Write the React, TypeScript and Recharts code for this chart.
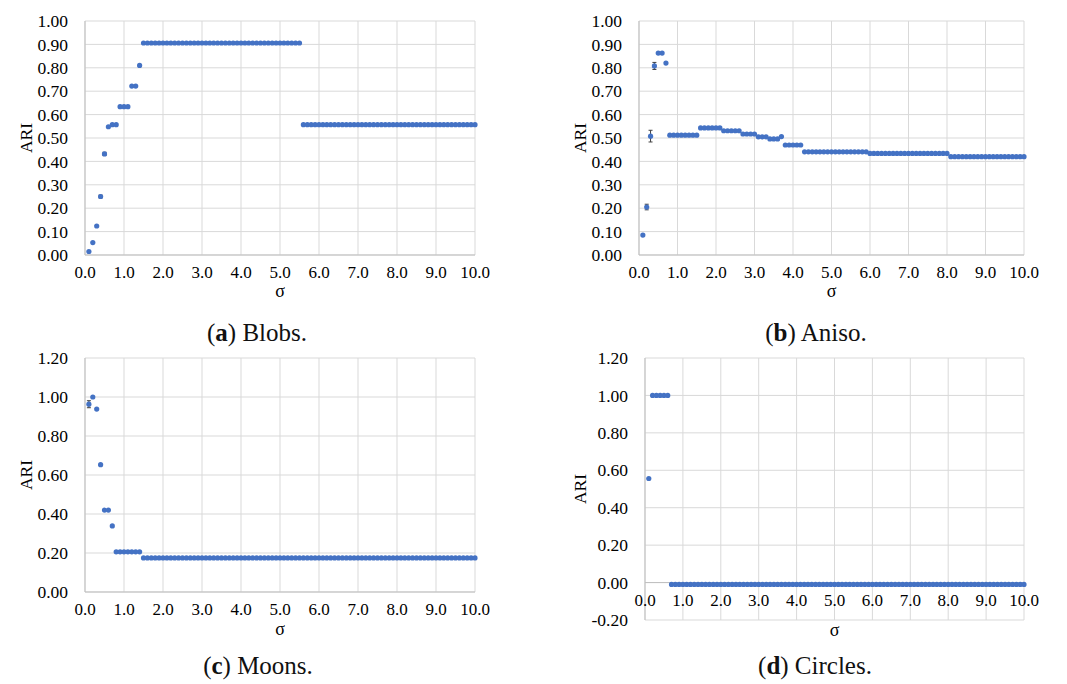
import React from 'react';
import { ScatterChart, Scatter, XAxis, YAxis, CartesianGrid, ErrorBar, ReferenceLine } from 'recharts';

const FONT = 'Liberation Serif, DejaVu Serif, serif';
const DOT = '#4472C4';
const GRID = '#D9D9D9';
const AXIS = '#BFBFBF';
const INK = '#000';

// sigma values shared by all four panels
const sigma = [
  0.1, 0.2, 0.3, 0.4, 0.5, 0.6, 0.7, 0.8, 0.9, 1.0,
  1.1, 1.2, 1.3, 1.4, 1.5, 1.6, 1.7, 1.8, 1.9, 2.0,
  2.1, 2.2, 2.3, 2.4, 2.5, 2.6, 2.7, 2.8, 2.9, 3.0,
  3.1, 3.2, 3.3, 3.4, 3.5, 3.6, 3.7, 3.8, 3.9, 4.0,
  4.1, 4.2, 4.3, 4.4, 4.5, 4.6, 4.7, 4.8, 4.9, 5.0,
  5.1, 5.2, 5.3, 5.4, 5.5, 5.6, 5.7, 5.8, 5.9, 6.0,
  6.1, 6.2, 6.3, 6.4, 6.5, 6.6, 6.7, 6.8, 6.9, 7.0,
  7.1, 7.2, 7.3, 7.4, 7.5, 7.6, 7.7, 7.8, 7.9, 8.0,
  8.1, 8.2, 8.3, 8.4, 8.5, 8.6, 8.7, 8.8, 8.9, 9.0,
  9.1, 9.2, 9.3, 9.4, 9.5, 9.6, 9.7, 9.8, 9.9, 10.0,
];

const blobsAri = [
  0.015, 0.053, 0.124, 0.250, 0.432, 0.548, 0.557, 0.557, 0.634, 0.634,
  0.634, 0.722, 0.722, 0.810, 0.906, 0.906, 0.906, 0.906, 0.906, 0.906,
  0.906, 0.906, 0.906, 0.906, 0.906, 0.906, 0.906, 0.906, 0.906, 0.906,
  0.906, 0.906, 0.906, 0.906, 0.906, 0.906, 0.906, 0.906, 0.906, 0.906,
  0.906, 0.906, 0.906, 0.906, 0.906, 0.906, 0.906, 0.906, 0.906, 0.906,
  0.906, 0.906, 0.906, 0.906, 0.906, 0.557, 0.557, 0.557, 0.557, 0.557,
  0.557, 0.557, 0.557, 0.557, 0.557, 0.557, 0.557, 0.557, 0.557, 0.557,
  0.557, 0.557, 0.557, 0.557, 0.557, 0.557, 0.557, 0.557, 0.557, 0.557,
  0.557, 0.557, 0.557, 0.557, 0.557, 0.557, 0.557, 0.557, 0.557, 0.557,
  0.557, 0.557, 0.557, 0.557, 0.557, 0.557, 0.557, 0.557, 0.557, 0.557,
];
const blobsErr = [0, 0, 0, 0.006, 0.007, 0, 0, 0, 0, 0];

const anisoAri = [
  0.085, 0.205, 0.508, 0.808, 0.863, 0.863, 0.820, 0.512, 0.512, 0.512,
  0.512, 0.512, 0.512, 0.512, 0.512, 0.543, 0.543, 0.543, 0.543, 0.543,
  0.543, 0.531, 0.531, 0.531, 0.531, 0.531, 0.517, 0.517, 0.517, 0.517,
  0.505, 0.505, 0.505, 0.496, 0.496, 0.496, 0.506, 0.470, 0.470, 0.470,
  0.470, 0.470, 0.441, 0.441, 0.441, 0.441, 0.441, 0.441, 0.441, 0.441,
  0.441, 0.441, 0.441, 0.441, 0.441, 0.441, 0.441, 0.441, 0.441, 0.434,
  0.434, 0.434, 0.434, 0.434, 0.434, 0.434, 0.434, 0.434, 0.434, 0.434,
  0.434, 0.434, 0.434, 0.434, 0.434, 0.434, 0.434, 0.434, 0.434, 0.434,
  0.420, 0.420, 0.420, 0.420, 0.420, 0.420, 0.420, 0.420, 0.420, 0.420,
  0.420, 0.420, 0.420, 0.420, 0.420, 0.420, 0.420, 0.420, 0.420, 0.420,
];
const anisoErr = [0, 0.012, 0.025, 0.015, 0, 0, 0, 0, 0, 0];

const moonsAri = [
  0.963, 1.000, 0.938, 0.653, 0.420, 0.420, 0.339, 0.206, 0.206, 0.206,
  0.206, 0.206, 0.206, 0.206, 0.175, 0.175, 0.175, 0.175, 0.175, 0.175,
  0.175, 0.175, 0.175, 0.175, 0.175, 0.175, 0.175, 0.175, 0.175, 0.175,
  0.175, 0.175, 0.175, 0.175, 0.175, 0.175, 0.175, 0.175, 0.175, 0.175,
  0.175, 0.175, 0.175, 0.175, 0.175, 0.175, 0.175, 0.175, 0.175, 0.175,
  0.175, 0.175, 0.175, 0.175, 0.175, 0.175, 0.175, 0.175, 0.175, 0.175,
  0.175, 0.175, 0.175, 0.175, 0.175, 0.175, 0.175, 0.175, 0.175, 0.175,
  0.175, 0.175, 0.175, 0.175, 0.175, 0.175, 0.175, 0.175, 0.175, 0.175,
  0.175, 0.175, 0.175, 0.175, 0.175, 0.175, 0.175, 0.175, 0.175, 0.175,
  0.175, 0.175, 0.175, 0.175, 0.175, 0.175, 0.175, 0.175, 0.175, 0.175,
];
const moonsErr = [0.018, 0, 0, 0, 0, 0, 0, 0, 0, 0];

const circlesAri = [
  0.556, 1.000, 1.000, 1.000, 1.000, 1.000, -0.010, -0.010, -0.010, -0.010,
  -0.010, -0.010, -0.010, -0.010, -0.010, -0.010, -0.010, -0.010, -0.010, -0.010,
  -0.010, -0.010, -0.010, -0.010, -0.010, -0.010, -0.010, -0.010, -0.010, -0.010,
  -0.010, -0.010, -0.010, -0.010, -0.010, -0.010, -0.010, -0.010, -0.010, -0.010,
  -0.010, -0.010, -0.010, -0.010, -0.010, -0.010, -0.010, -0.010, -0.010, -0.010,
  -0.010, -0.010, -0.010, -0.010, -0.010, -0.010, -0.010, -0.010, -0.010, -0.010,
  -0.010, -0.010, -0.010, -0.010, -0.010, -0.010, -0.010, -0.010, -0.010, -0.010,
  -0.010, -0.010, -0.010, -0.010, -0.010, -0.010, -0.010, -0.010, -0.010, -0.010,
  -0.010, -0.010, -0.010, -0.010, -0.010, -0.010, -0.010, -0.010, -0.010, -0.010,
  -0.010, -0.010, -0.010, -0.010, -0.010, -0.010, -0.010, -0.010, -0.010, -0.010,
];
const circlesErr: number[] = [];

const sigmaTicks = [0, 1, 2, 3, 4, 5, 6, 7, 8, 9, 10];
const tenthTicks = [0, 0.1, 0.2, 0.3, 0.4, 0.5, 0.6, 0.7, 0.8, 0.9, 1.0];
const moonsTicks = [0, 0.2, 0.4, 0.6, 0.8, 1.0, 1.2];
const circlesTicks = [-0.2, 0, 0.2, 0.4, 0.6, 0.8, 1.0, 1.2];

type PanelProps = {
  left: number;
  top: number;
  plot: [number, number, number, number]; // page px: left, top, right, bottom
  ariX: number;
  yTicks: number[];
  values: number[];
  errors: number[];
  sigmaGap: number;
  zeroAxis?: boolean;
};

const Panel = ({ left, top, plot, ariX, yTicks, values, errors, sigmaGap, zeroAxis }: PanelProps) => {
  const width = plot[2] - left + 20;
  const height = plot[3] - top + 50;
  const yMin = yTicks[0];
  const yMax = yTicks[yTicks.length - 1];
  // circles panel: x labels sit on the 0.00 line, not on the bottom edge
  const shift = zeroAxis ? ((plot[3] - plot[1]) * (0 - yMin)) / (yMax - yMin) : 0;
  const data = sigma.map((x, i) => ({ x, y: values[i], err: errors[i] || 0 }));

  return (
    <div style={{ position: 'absolute', left, top }}>
      <ScatterChart
        width={width}
        height={height}
        margin={{ top: plot[1] - top, right: 20, bottom: 0, left: 0 }}
      >
        <CartesianGrid stroke={GRID} />
        <XAxis
          type="number"
          dataKey="x"
          domain={[0, 10]}
          ticks={sigmaTicks}
          interval={0}
          height={50}
          tickSize={0}
          tickMargin={11}
          axisLine={zeroAxis ? false : { stroke: AXIS }}
          tick={(p: any) => (
            <text x={p.x} y={p.y - shift} dy="0.71em" textAnchor="middle" fill={INK} fontSize={17} fontFamily={FONT}>
              {Number(p.payload.value).toFixed(1)}
            </text>
          )}
          label={{ value: 'σ', position: 'insideBottom', offset: 50 - sigmaGap, style: { fontSize: 18, fontFamily: FONT, fill: INK } }}
        />
        <YAxis
          type="number"
          dataKey="y"
          domain={[yMin, yMax]}
          ticks={yTicks}
          interval={0}
          width={plot[0] - left}
          tickSize={0}
          tickMargin={17}
          axisLine={{ stroke: AXIS }}
          tick={{ fontSize: 17.5, fontFamily: FONT, fill: INK }}
          tickFormatter={(v: number) => v.toFixed(2)}
          label={{ value: 'ARI', angle: -90, position: 'insideLeft', offset: ariX - left, style: { textAnchor: 'middle', fontSize: 17.5, fontFamily: FONT, fill: INK } }}
        />
        {zeroAxis && <ReferenceLine y={0} stroke={AXIS} />}
        <Scatter
          data={data}
          isAnimationActive={false}
          shape={(p: any) => <circle cx={p.cx} cy={p.cy} r={2.6} fill={DOT} />}
        >
          <ErrorBar dataKey="err" direction="y" width={2} stroke="#404040" strokeWidth={1} />
        </Scatter>
      </ScatterChart>
    </div>
  );
};

const Caption = ({ cx, top, tag, name }: { cx: number; top: number; tag: string; name: string }) => (
  <div
    style={{
      position: 'absolute',
      left: cx - 150,
      top,
      width: 300,
      textAlign: 'center',
      fontFamily: FONT,
      fontSize: 25,
      lineHeight: '25px',
      color: '#111',
    }}
  >
    (<b>{tag}</b>) {name}
  </div>
);

export default function App() {
  return (
    <div style={{ position: 'absolute', left: 0, top: 0, width: 1067, height: 684, background: '#fff', overflow: 'hidden' }}>
      <Panel left={0} top={0} plot={[85, 21, 475, 255]} ariX={26} yTicks={tenthTicks} values={blobsAri} errors={blobsErr} sigmaGap={42} />
      <Panel left={530} top={0} plot={[639, 21, 1024, 255]} ariX={580} yTicks={tenthTicks} values={anisoAri} errors={anisoErr} sigmaGap={42} />
      <Panel left={0} top={330} plot={[85, 358, 475, 592]} ariX={26} yTicks={moonsTicks} values={moonsAri} errors={moonsErr} sigmaGap={43} />
      <Panel left={530} top={330} plot={[645, 358, 1024, 620]} ariX={580} yTicks={circlesTicks} values={circlesAri} errors={circlesErr} sigmaGap={16} zeroAxis />
      <Caption cx={257} top={320} tag="a" name="Blobs." />
      <Caption cx={816} top={320} tag="b" name="Aniso." />
      <Caption cx={258} top={653} tag="c" name="Moons." />
      <Caption cx={815} top={653} tag="d" name="Circles." />
    </div>
  );
}
